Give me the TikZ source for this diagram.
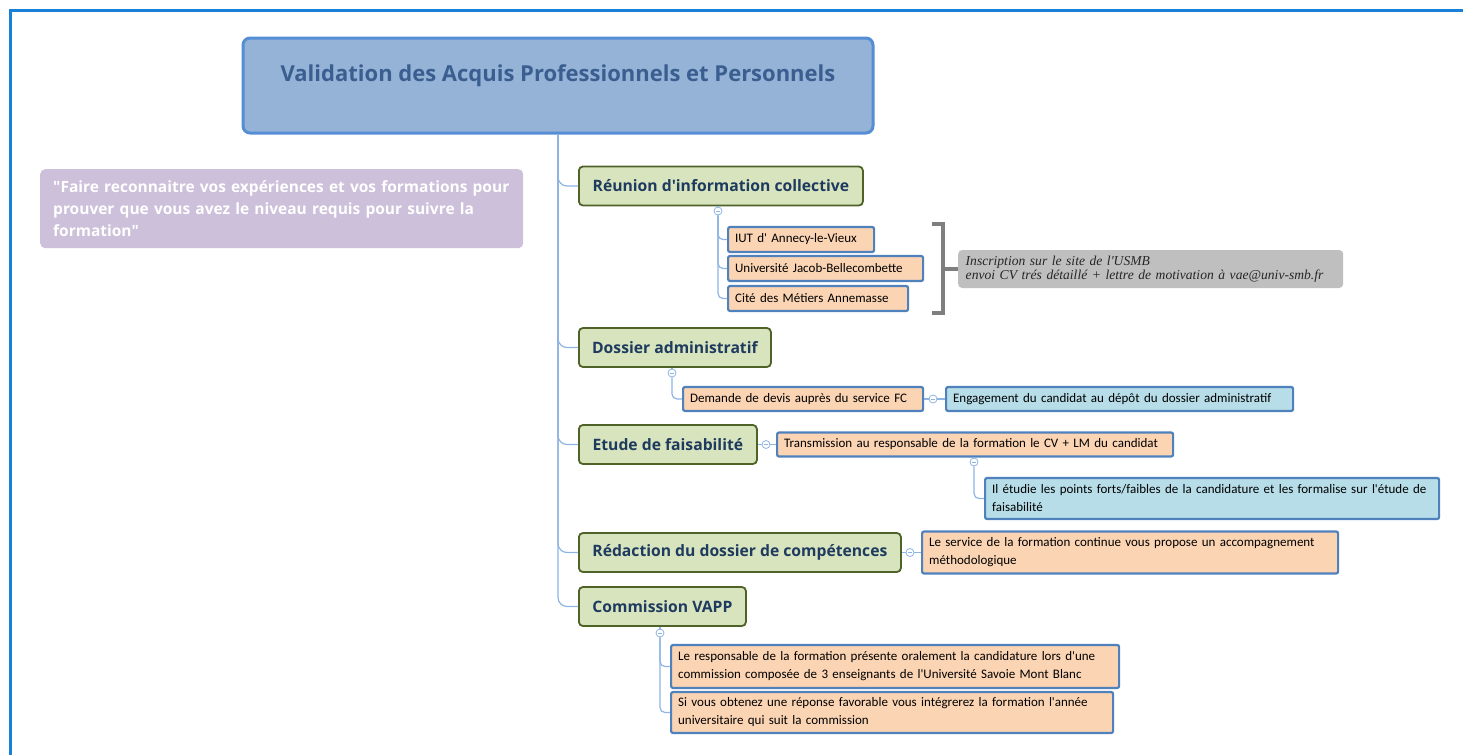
\documentclass[tikz,border=0pt]{standalone}
\usepackage{fontspec}
\newfontfamily\headfont{Open Sans}
\newfontfamily\boxfont{Carlito}
\newfontfamily\notefont{Liberation Serif}
\usepackage{xcolor}
\usepackage{tikz}
\usetikzlibrary{positioning}

\definecolor{framecol}{HTML}{1A7FD6}
\definecolor{linkcol}{HTML}{8EB4E3}
\definecolor{headfill}{HTML}{95B3D7}
\definecolor{headline}{HTML}{558ED5}
\definecolor{headtext}{HTML}{3B5E91}
\definecolor{quotefill}{HTML}{CCC0DA}
\definecolor{topicfill}{HTML}{D7E4BD}
\definecolor{topicline}{HTML}{4F6228}
\definecolor{topictext}{HTML}{1F3A5F}
\definecolor{itemfill}{HTML}{FBD4B4}
\definecolor{itemline}{HTML}{4F81BD}
\definecolor{detailfill}{HTML}{B7DDE8}
\definecolor{notefill}{HTML}{BFBFBF}
\definecolor{notetext}{HTML}{262626}
\definecolor{bracketcol}{HTML}{7F7F7F}

\tikzset{
    link/.style = {draw=linkcol, line width=1.2pt, rounded corners=9pt},
    headbox/.style = {draw=headline, fill=headfill, line width=3pt, rounded corners=7pt,
        inner sep=0pt, text=headtext, font=\headfont\bfseries\fontsize{22}{26}\selectfont},
    quotebox/.style = {fill=quotefill, rounded corners=5pt, anchor=north west, align=left,
        inner xsep=13pt, text=white, font=\headfont\bfseries\fontsize{15.5}{22}\selectfont},
    topic/.style = {draw=topicline, fill=topicfill, line width=1.8pt, rounded corners=4pt,
        anchor=west, minimum height=39pt, inner xsep=0pt, text=topictext,
        font=\headfont\bfseries\fontsize{15.7}{18}\selectfont},
    item/.style = {draw=itemline, fill=itemfill, line width=2.2pt, rounded corners=2pt,
        anchor=west, align=left, inner xsep=7pt, inner ysep=0pt,
        font=\boxfont\fontsize{13}{18}\selectfont},
    detail/.style = {item, fill=detailfill},
    notebox/.style = {fill=notefill, rounded corners=4pt, anchor=west, align=left,
        inner xsep=7.5pt, text=notetext, font=\notefont\itshape\fontsize{13.6}{14.5}\selectfont},
    fold/.style = {circle, draw=linkcol, fill=white, line width=0.8pt, minimum size=8pt,
        inner sep=0pt, path picture={\draw[linkcol, line width=0.8pt]
            ([xshift=-2pt]path picture bounding box.center) --
            ([xshift=2pt]path picture bounding box.center);}},
    bracket/.style = {draw=bracketcol, line width=4pt},
}

\begin{document}
\begin{tikzpicture}[x=1pt, y=-1pt]
    \useasboundingbox (0,0) rectangle (1463,755);
    \draw[framecol, line width=3pt] (1463,10) -- (10,10) -- (10,755);

    % central topic and note
    \node[headbox, minimum width=630pt, text height=43pt, text depth=52pt] (head) at (558,85.5)
        {Validation des Acquis Professionnels et Personnels};
    \node[quotebox, text width=457pt, minimum height=79pt] (quote) at (40,169)
        {"Faire reconnaitre vos expériences et vos formations pour\\
        prouver que vous avez le niveau requis pour suivre la\\
        formation"};

    % main topics
    \node[topic, minimum width=284pt] (reunion) at (578,186) {Réunion d'information collective};
    \node[topic, minimum width=192pt] (dossier) at (578,347.5) {Dossier administratif};
    \node[topic, minimum width=178pt] (etude) at (578,444.5) {Etude de faisabilité};
    \node[topic, minimum width=322pt] (redaction) at (578,552.5) {Rédaction du dossier de compétences};
    \node[topic, minimum width=167pt] (commission) at (578,606.5) {Commission VAPP};

    \foreach \t in {reunion, dossier, etude, redaction, commission}
        \draw[link] (head.south) |- (\t.west);

    % reunion
    \node[fold] (f1) at (718,211) {};
    \node[item, text width=132pt, minimum height=25pt] (iut) at (727,239.5) {IUT d' Annecy-le-Vieux};
    \node[item, text width=181pt, minimum height=25pt] (jacob) at (727,268.5) {Université Jacob-Bellecombette};
    \node[item, text width=166pt, minimum height=25pt] (cite) at (727,298.5) {Cité des Métiers Annemasse};
    \draw[link] (reunion.south -| f1) -- (f1);
    \foreach \t in {iut, jacob, cite}
        \draw[link, rounded corners=5pt] (f1.south) |- (\t.west);

    \node[notebox, text width=370pt, minimum height=38pt] (note) at (958,269)
        {Inscription sur le site de l'USMB\\
        envoi CV trés détaillé + lettre de motivation à vae@univ-smb.fr};
    \coordinate (brtop) at (932,224);
    \coordinate (brbot) at (932,313);
    \coordinate (brmid) at (943,269);
    \draw[bracket] (brtop) -| (brmid) |- (brbot);
    \draw[bracket] (brmid) -- (note.west);

    % dossier
    \node[fold] (f2) at (672,373) {};
    \node[item, text width=226pt, minimum height=24pt] (devis) at (682,399) {Demande de devis auprès du service FC};
    \node[fold] (f3) at (933,399) {};
    \node[detail, text width=333pt, minimum height=24pt] (engage) at (945,399)
        {Engagement du candidat au dépôt du dossier administratif};
    \draw[link] (dossier.south -| f2) -- (f2);
    \draw[link, rounded corners=5pt] (f2.south) |- (devis.west);
    \draw[link] (devis.east) -- (f3) -- (engage.west);

    % etude
    \node[fold] (f4) at (766,444.5) {};
    \node[item, text width=382pt, minimum height=24pt] (transm) at (776,444.5)
        {Transmission au responsable de la formation le CV + LM du candidat};
    \node[fold] (f5) at (974,462) {};
    \node[detail, text width=440pt, minimum height=41pt] (etudie) at (984,498.5)
        {Il étudie les points forts/faibles de la candidature et les formalise sur l'étude de\\
        faisabilité};
    \draw[link] (etude.east) -- (f4) -- (transm.west);
    \draw[link] (transm.south -| f5) -- (f5);
    \draw[link, rounded corners=5pt] (f5.south) |- (etudie.west);

    % redaction
    \node[fold] (f6) at (910,552.5) {};
    \node[item, text width=402pt, minimum height=42pt] (service) at (921,552.5)
        {Le service de la formation continue vous propose un accompagnement\\
        méthodologique};
    \draw[link] (redaction.east) -- (f6) -- (service.west);

    % commission
    \node[fold] (f7) at (660,633) {};
    \node[item, text width=434pt, minimum height=43pt] (resp) at (670,666.5)
        {Le responsable de la formation présente oralement la candidature lors d'une\\
        commission composée de 3 enseignants de l'Université Savoie Mont Blanc};
    \node[item, text width=428pt, minimum height=41pt] (sivous) at (670,712.5)
        {Si vous obtenez une réponse favorable vous intégrerez la formation l'année\\
        universitaire qui suit la commission};
    \draw[link] (commission.south -| f7) -- (f7);
    \foreach \t in {resp, sivous}
        \draw[link, rounded corners=5pt] (f7.south) |- (\t.west);
\end{tikzpicture}
\end{document}
